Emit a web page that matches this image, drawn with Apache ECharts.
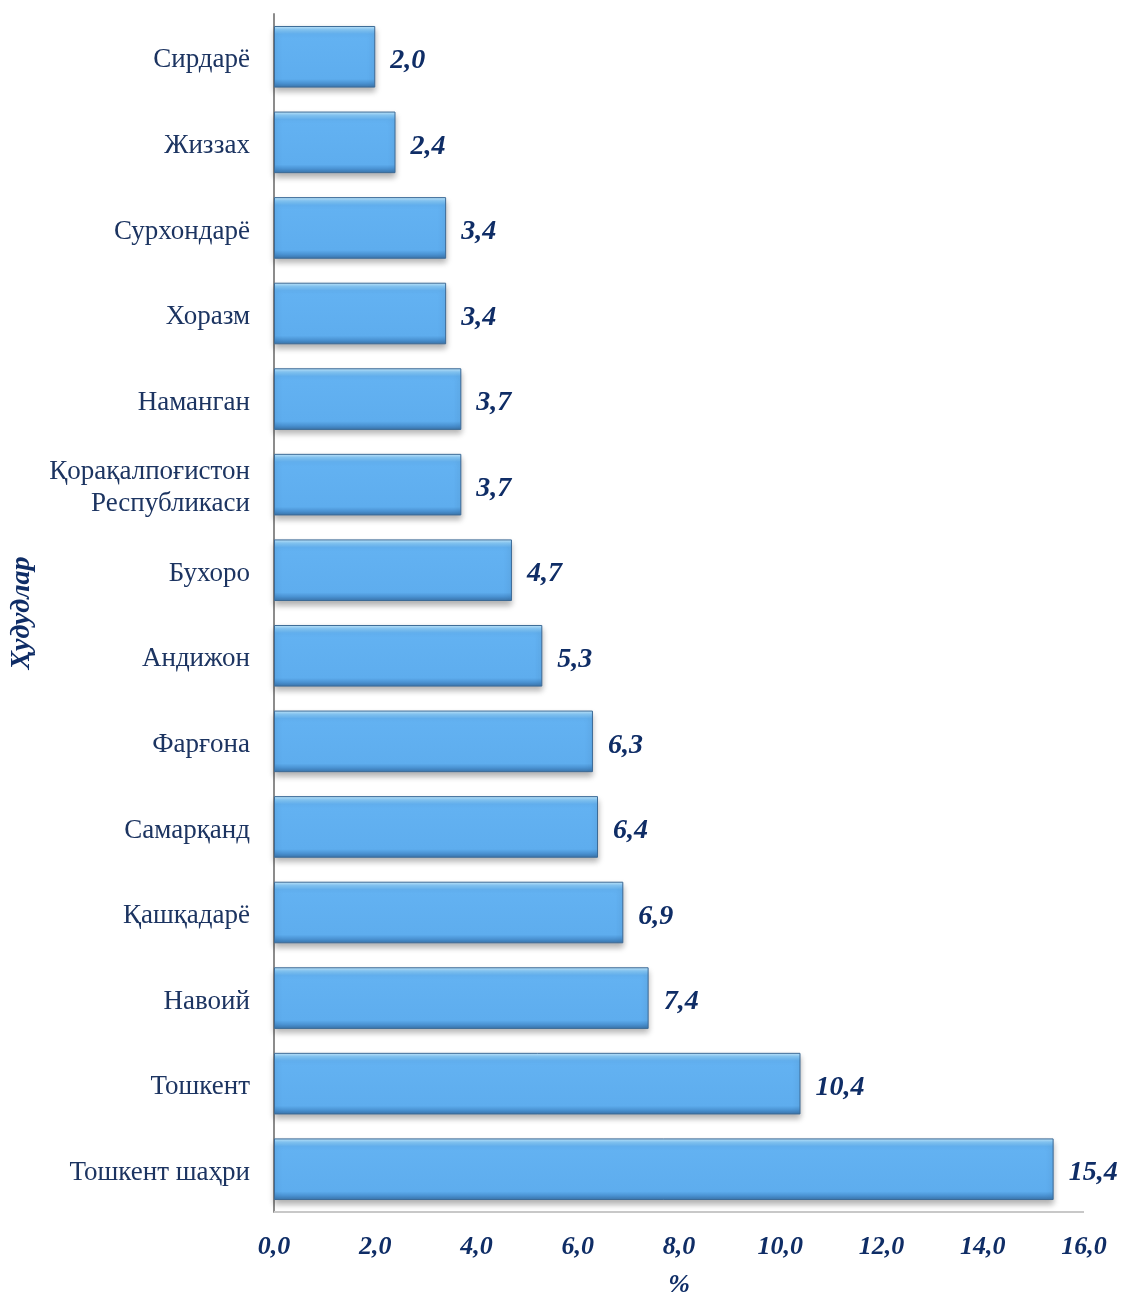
<!DOCTYPE html>
<html>
<head>
<meta charset="utf-8">
<script src="https://cdn.jsdelivr.net/npm/echarts@6/dist/echarts.min.js"></script>
<style>html,body{margin:0;padding:0;background:#fff;}#c{width:1124px;height:1295px;}</style>
</head>
<body>
<div id="c"></div>
<script>
const categories = ['Сирдарё', 'Жиззах', 'Сурхондарё', 'Хоразм', 'Наманган', 'Қорақалпоғистон\nРеспубликаси', 'Бухоро', 'Андижон', 'Фарғона', 'Самарқанд', 'Қашқадарё', 'Навоий', 'Тошкент', 'Тошкент шаҳри'];
const values = [2.0, 2.4, 3.4, 3.4, 3.7, 3.7, 4.7, 5.3, 6.3, 6.4, 6.9, 7.4, 10.4, 15.4];
const xTicks = {min: 0, max: 16, interval: 2};
const fmt = v => Number(v).toFixed(1).replace('.', ',');
const navy = '#0f2d66';
const chart = echarts.init(document.getElementById('c'));
chart.setOption({
  animation: false,
  grid: {left: 274, right: 40, top: 14, bottom: 83, containLabel: false, outerBoundsMode: 'none'},
  xAxis: {
    type: 'value', min: xTicks.min, max: xTicks.max, interval: xTicks.interval,
    splitLine: {show: false},
    axisLine: {show: false},
    axisTick: {show: false},
    axisLabel: {formatter: fmt, color: navy, fontFamily: 'Liberation Serif', fontSize: 26, fontWeight: 'bold', fontStyle: 'italic', margin: 22},
    name: '%', nameLocation: 'middle', nameGap: 60,
    nameTextStyle: {color: navy, fontFamily: 'Liberation Serif', fontSize: 26, fontWeight: 'bold', fontStyle: 'italic'}
  },
  yAxis: {
    type: 'category', data: categories, inverse: true,
    axisLine: {show: true, lineStyle: {color: '#8c8c8c', width: 2}},
    axisTick: {show: false},
    axisLabel: {
      color: '#1c3461', fontFamily: 'Liberation Serif', fontSize: 27, margin: 24, align: 'right',
      formatter: v => v.split('\n').map(s => '{a|' + s + '}').join('\n'),
      rich: {a: {color: '#1c3461', fontFamily: 'Liberation Serif', fontSize: 27, lineHeight: 32, padding: [7, 0, 0, 0]}}
    },
    name: 'Ҳудудлар', nameLocation: 'middle', nameGap: 238, nameRotate: 90,
    nameTextStyle: {color: navy, fontFamily: 'Liberation Serif', fontSize: 28, fontWeight: 'bold', fontStyle: 'italic'}
  },
  series: [{
    type: 'bar', data: values, barWidth: '72%',
    itemStyle: {
      color: new echarts.graphic.LinearGradient(0, 0, 0, 1, [
        {offset: 0, color: '#c6eafd'},
        {offset: 0.06, color: '#86c9f8'},
        {offset: 0.13, color: '#63b2f2'},
        {offset: 0.86, color: '#5eadee'},
        {offset: 0.93, color: '#4a92d2'},
        {offset: 1, color: '#3a74aa'}
      ]),
      borderColor: '#3c6a96', borderWidth: 1,
      shadowColor: 'rgba(0,0,0,0.3)', shadowBlur: 6, shadowOffsetY: 4
    },
    label: {show: true, position: 'right', distance: 15, offset: [0, 4], formatter: p => fmt(p.value), color: navy, fontFamily: 'Liberation Serif', fontSize: 28, fontWeight: 'bold', fontStyle: 'italic'}
  }],
  graphic: [{
    type: 'line', z: 10,
    shape: {x1: 274, y1: 1212, x2: 1084, y2: 1212},
    style: {stroke: '#c8c8c8', lineWidth: 2}
  }]
});
</script>
</body>
</html>
